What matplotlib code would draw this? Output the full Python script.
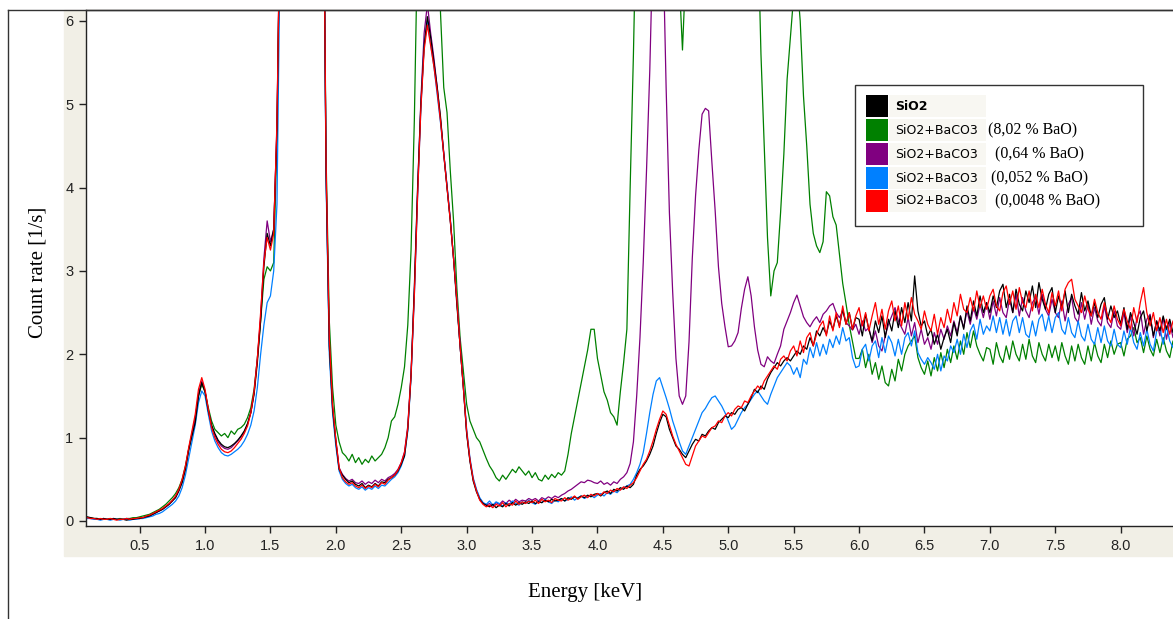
import numpy as np
import matplotlib
matplotlib.use('Agg')
from matplotlib import pyplot as plt
from matplotlib.patches import Rectangle
from matplotlib.lines import Line2D

# channel energies, 25 eV per channel
energy = np.arange(340) * 0.025

sio2 = [
    0.06, 0.06, 0.06, 0.06, 0.05, 0.04, 0.03, 0.03, 0.02, 0.03, 0.02, 0.02, 0.03, 0.02, 0.02, 0.02, 0.01, 0.02, 0.02, 0.03,
    0.03, 0.04, 0.05, 0.06, 0.08, 0.10, 0.12, 0.14, 0.17, 0.20, 0.24, 0.28, 0.36, 0.46, 0.62, 0.85, 1.02, 1.18, 1.50, 1.66,
    1.55, 1.32, 1.15, 1.05, 0.97, 0.92, 0.89, 0.88, 0.90, 0.93, 0.97, 1.02, 1.08, 1.17, 1.30, 1.52, 1.90, 2.40, 3.05, 3.45,
    3.30, 3.50, 4.70, 7.5, 9, 9, 9, 9, 9, 9, 9, 9, 9, 9, 9, 9, 9, 4.2, 2.1, 1.35,
    0.95, 0.62, 0.55, 0.50, 0.46, 0.48, 0.44, 0.42, 0.45, 0.40, 0.43, 0.41, 0.45, 0.42, 0.47, 0.46, 0.50, 0.52, 0.55, 0.60,
    0.68, 0.78, 1.10, 1.75, 2.80, 4.00, 5.00, 5.70, 6.05, 5.80, 5.50, 5.20, 4.85, 4.40, 4.00, 3.60, 3.15, 2.60, 2.10, 1.60,
    1.05, 0.72, 0.48, 0.35, 0.26, 0.21, 0.19, 0.17, 0.20, 0.16, 0.19, 0.17, 0.21, 0.18, 0.22, 0.19, 0.22, 0.20, 0.23, 0.21,
    0.24, 0.21, 0.23, 0.22, 0.25, 0.23, 0.26, 0.24, 0.25, 0.27, 0.24, 0.28, 0.26, 0.29, 0.27, 0.30, 0.28, 0.31, 0.29, 0.32,
    0.33, 0.30, 0.34, 0.36, 0.33, 0.38, 0.36, 0.40, 0.38, 0.42, 0.40, 0.44, 0.55, 0.62, 0.66, 0.72, 0.80, 0.90, 1.05, 1.18,
    1.28, 1.25, 1.10, 1.00, 0.90, 0.86, 0.80, 0.76, 0.84, 0.92, 0.98, 0.96, 1.04, 1.02, 1.08, 1.12, 1.10, 1.18, 1.22, 1.26,
    1.24, 1.30, 1.28, 1.34, 1.36, 1.32, 1.40, 1.48, 1.58, 1.54, 1.62, 1.58, 1.70, 1.78, 1.84, 1.90, 1.86, 1.92, 1.96, 1.92,
    1.98, 2.04, 2.00, 2.10, 2.06, 2.20, 2.10, 2.28, 2.22, 2.32, 2.24, 2.40, 2.30, 2.46, 2.34, 2.54, 2.36, 2.50, 2.30, 2.44,
    2.42, 2.22, 2.48, 2.30, 2.16, 2.40, 2.26, 2.46, 2.20, 2.42, 2.28, 2.52, 2.32, 2.56, 2.38, 2.62, 2.40, 2.94, 2.52, 2.34,
    2.40, 2.22, 2.30, 2.12, 2.24, 2.06, 2.20, 2.30, 2.14, 2.38, 2.22, 2.46, 2.30, 2.58, 2.40, 2.64, 2.46, 2.70, 2.50, 2.62,
    2.50, 2.70, 2.56, 2.76, 2.84, 2.56, 2.72, 2.50, 2.78, 2.60, 2.52, 2.76, 2.62, 2.82, 2.56, 2.86, 2.66, 2.54, 2.72, 2.80,
    2.50, 2.70, 2.56, 2.76, 2.50, 2.72, 2.58, 2.48, 2.74, 2.52, 2.64, 2.46, 2.62, 2.44, 2.60, 2.68, 2.42, 2.58, 2.44, 2.52,
    2.36, 2.56, 2.30, 2.50, 2.38, 2.24, 2.44, 2.52, 2.28, 2.46, 2.22, 2.40, 2.28, 2.46, 2.30, 2.42, 2.26, 2.40, 2.30, 2.38,
]

bao_802 = [
    0.06, 0.06, 0.05, 0.05, 0.04, 0.04, 0.03, 0.03, 0.02, 0.03, 0.02, 0.03, 0.02, 0.02, 0.03, 0.02, 0.03, 0.03, 0.04, 0.04,
    0.05, 0.06, 0.07, 0.08, 0.10, 0.12, 0.14, 0.17, 0.20, 0.24, 0.28, 0.33, 0.40, 0.50, 0.66, 0.86, 1.05, 1.24, 1.50, 1.64,
    1.55, 1.36, 1.20, 1.10, 1.06, 1.02, 1.05, 1.00, 1.08, 1.04, 1.10, 1.12, 1.16, 1.24, 1.36, 1.58, 1.95, 2.40, 2.90, 3.05,
    3.00, 3.10, 4.60, 7.5, 9, 9, 9, 9, 9, 9, 9, 9, 9, 9, 9, 9, 9, 4.4, 2.4, 1.60,
    1.15, 0.95, 0.82, 0.78, 0.72, 0.80, 0.70, 0.76, 0.68, 0.74, 0.70, 0.78, 0.72, 0.76, 0.80, 0.88, 1.00, 1.20, 1.25, 1.40,
    1.60, 1.85, 2.35, 3.25, 4.80, 7.0, 9, 9, 9, 9, 9, 9, 6.1, 5.2, 4.9, 4.2, 3.6, 2.8, 2.2, 1.8,
    1.40, 1.20, 1.10, 1.00, 0.95, 0.85, 0.75, 0.66, 0.60, 0.52, 0.48, 0.55, 0.50, 0.56, 0.62, 0.58, 0.65, 0.60, 0.55, 0.60,
    0.52, 0.58, 0.50, 0.48, 0.55, 0.50, 0.56, 0.52, 0.58, 0.55, 0.60, 0.80, 1.05, 1.25, 1.45, 1.65, 1.85, 2.05, 2.30, 2.30,
    1.95, 1.75, 1.55, 1.45, 1.30, 1.25, 1.15, 1.55, 1.90, 2.30, 4.00, 5.60, 7.5, 9, 9, 9, 9, 9, 9, 9,
    9, 9, 9, 9, 8.0, 6.5, 5.65, 6.6, 8.5, 9, 9, 9, 9, 9, 9, 9, 9, 9, 9, 9,
    9, 9, 9, 9, 9, 9, 9, 9, 9, 7.2, 5.6, 4.5, 3.40, 2.70, 3.00, 3.10, 3.70, 4.40, 5.30, 5.80,
    6.3, 6.5, 6.0, 5.1, 4.50, 3.80, 3.45, 3.30, 3.22, 3.35, 3.95, 3.90, 3.65, 3.55, 3.20, 2.85, 2.61, 2.35, 2.15, 1.95,
    1.95, 2.06, 1.84, 2.00, 1.76, 1.90, 1.70, 1.86, 1.66, 1.62, 1.82, 1.68, 1.94, 1.80, 2.00, 2.10, 2.16, 2.22, 1.96, 1.84,
    1.76, 1.92, 1.74, 1.96, 1.80, 2.02, 1.84, 2.06, 1.90, 2.10, 1.94, 2.16, 2.00, 2.26, 2.08, 2.28, 2.10, 2.00, 1.92, 2.08,
    2.06, 1.88, 2.14, 1.98, 1.90, 2.10, 1.94, 2.16, 2.00, 1.92, 2.12, 1.94, 2.18, 1.98, 1.90, 2.14, 2.00, 1.92, 2.12, 1.96,
    2.10, 1.92, 2.14, 1.98, 1.88, 2.10, 1.92, 2.12, 1.96, 1.88, 2.10, 1.92, 2.14, 1.98, 1.90, 2.12, 1.96, 2.16, 2.00, 2.12,
    2.14, 1.98, 2.18, 2.22, 2.32, 2.14, 2.20, 2.02, 2.22, 2.06, 1.98, 2.18, 2.02, 2.20, 2.04, 1.96, 2.16, 2.02, 2.18, 2.04,
]

bao_064 = [
    0.06, 0.05, 0.05, 0.04, 0.04, 0.03, 0.03, 0.02, 0.02, 0.03, 0.02, 0.02, 0.03, 0.02, 0.02, 0.02, 0.03, 0.02, 0.02, 0.03,
    0.03, 0.04, 0.05, 0.06, 0.08, 0.10, 0.12, 0.14, 0.17, 0.20, 0.24, 0.29, 0.37, 0.48, 0.64, 0.86, 1.04, 1.22, 1.52, 1.68,
    1.56, 1.33, 1.14, 1.03, 0.95, 0.90, 0.87, 0.86, 0.88, 0.92, 0.96, 1.01, 1.07, 1.16, 1.30, 1.54, 1.95, 2.45, 3.15, 3.60,
    3.35, 3.50, 4.75, 7.5, 9, 9, 9, 9, 9, 9, 9, 9, 9, 9, 9, 9, 9, 4.2, 2.1, 1.36,
    0.97, 0.64, 0.56, 0.51, 0.48, 0.50, 0.46, 0.45, 0.48, 0.44, 0.47, 0.45, 0.49, 0.46, 0.50, 0.48, 0.52, 0.54, 0.57, 0.62,
    0.70, 0.83, 1.14, 1.78, 2.75, 3.95, 5.05, 5.85, 6.20, 5.85, 5.55, 5.20, 4.82, 4.42, 4.02, 3.62, 3.15, 2.65, 2.10, 1.60,
    1.06, 0.73, 0.50, 0.37, 0.27, 0.22, 0.19, 0.21, 0.18, 0.22, 0.20, 0.24, 0.21, 0.25, 0.22, 0.26, 0.23, 0.25, 0.24, 0.27,
    0.25, 0.27, 0.24, 0.28, 0.26, 0.29, 0.27, 0.30, 0.28, 0.31, 0.33, 0.36, 0.38, 0.41, 0.44, 0.47, 0.46, 0.49, 0.48, 0.46,
    0.45, 0.48, 0.44, 0.46, 0.43, 0.47, 0.45, 0.50, 0.53, 0.58, 0.69, 0.95, 1.50, 2.20, 3.10, 4.20, 5.40, 7.0, 8.5, 8.5,
    7.0, 5.20, 3.70, 2.75, 1.95, 1.50, 1.40, 1.50, 2.15, 3.15, 3.90, 4.45, 4.88, 4.95, 4.92, 4.30, 3.72, 3.05, 2.61, 2.33,
    2.09, 2.10, 2.16, 2.26, 2.55, 2.78, 2.93, 2.70, 2.33, 2.05, 1.88, 1.85, 1.97, 1.92, 1.89, 2.00, 2.10, 2.30, 2.40, 2.50,
    2.62, 2.71, 2.58, 2.45, 2.38, 2.33, 2.40, 2.45, 2.38, 2.48, 2.52, 2.58, 2.61, 2.50, 2.44, 2.52, 2.38, 2.34, 2.29, 2.36,
    2.24, 2.40, 2.28, 2.32, 2.14, 2.28, 2.10, 2.04, 2.22, 2.36, 2.46, 2.56, 2.40, 2.32, 2.24, 2.44, 2.22, 2.38, 2.14, 2.30,
    2.12, 2.20, 2.06, 2.26, 2.12, 2.30, 2.18, 2.34, 2.22, 2.40, 2.26, 2.46, 2.32, 2.52, 2.36, 2.56, 2.42, 2.60, 2.44, 2.62,
    2.42, 2.64, 2.46, 2.68, 2.50, 2.44, 2.66, 2.50, 2.72, 2.46, 2.68, 2.52, 2.44, 2.62, 2.68, 2.48, 2.72, 2.54, 2.46, 2.66,
    2.50, 2.44, 2.64, 2.40, 2.60, 2.68, 2.44, 2.38, 2.62, 2.42, 2.60, 2.36, 2.56, 2.40, 2.34, 2.58, 2.38, 2.32, 2.52, 2.34,
    2.30, 2.50, 2.26, 2.46, 2.22, 2.44, 2.52, 2.24, 2.42, 2.48, 2.20, 2.40, 2.22, 2.44, 2.18, 2.38, 2.20, 2.36, 2.14, 2.34,
]

bao_0052 = [
    0.05, 0.05, 0.04, 0.04, 0.03, 0.03, 0.02, 0.02, 0.01, 0.02, 0.02, 0.01, 0.02, 0.02, 0.01, 0.02, 0.02, 0.01, 0.02, 0.02,
    0.03, 0.03, 0.04, 0.05, 0.06, 0.08, 0.09, 0.11, 0.14, 0.17, 0.20, 0.24, 0.30, 0.40, 0.55, 0.75, 0.95, 1.15, 1.42, 1.56,
    1.50, 1.28, 1.08, 0.96, 0.88, 0.82, 0.79, 0.78, 0.80, 0.83, 0.86, 0.90, 0.96, 1.04, 1.15, 1.32, 1.60, 2.00, 2.35, 2.62,
    2.70, 3.00, 3.80, 7.0, 9, 9, 9, 9, 9, 9, 9, 9, 9, 9, 9, 9, 9, 4.1, 2.0, 1.30,
    0.90, 0.60, 0.50, 0.45, 0.42, 0.44, 0.40, 0.38, 0.41, 0.37, 0.40, 0.38, 0.42, 0.39, 0.43, 0.42, 0.46, 0.50, 0.53, 0.58,
    0.66, 0.78, 1.08, 1.72, 2.70, 3.90, 4.95, 5.70, 6.00, 5.72, 5.45, 5.12, 4.78, 4.40, 4.02, 3.62, 3.15, 2.65, 2.10, 1.62,
    1.10, 0.76, 0.52, 0.38, 0.28, 0.22, 0.20, 0.24, 0.19, 0.23, 0.21, 0.18, 0.22, 0.20, 0.24, 0.21, 0.19, 0.23, 0.21, 0.25,
    0.22, 0.20, 0.24, 0.22, 0.26, 0.23, 0.21, 0.25, 0.23, 0.27, 0.24, 0.26, 0.29, 0.25, 0.28, 0.30, 0.27, 0.29, 0.31, 0.28,
    0.31, 0.33, 0.30, 0.34, 0.32, 0.36, 0.34, 0.38, 0.40, 0.42, 0.44, 0.50, 0.58, 0.68, 0.82, 1.05, 1.30, 1.52, 1.68, 1.72,
    1.60, 1.48, 1.35, 1.20, 1.08, 0.95, 0.84, 0.80, 0.90, 1.00, 1.10, 1.20, 1.30, 1.35, 1.42, 1.48, 1.50, 1.44, 1.38, 1.30,
    1.20, 1.10, 1.14, 1.22, 1.30, 1.36, 1.40, 1.46, 1.52, 1.56, 1.50, 1.44, 1.40, 1.52, 1.62, 1.72, 1.78, 1.84, 1.90, 1.86,
    1.76, 1.84, 1.72, 1.94, 1.88, 2.08, 1.96, 2.14, 1.98, 2.12, 2.00, 2.18, 2.08, 2.22, 2.12, 2.32, 2.16, 2.20, 1.96, 1.84,
    1.86, 2.06, 2.12, 1.92, 2.10, 2.16, 1.96, 2.20, 2.02, 2.22, 2.14, 1.98, 2.18, 2.00, 2.20, 2.26, 2.10, 2.28, 2.02, 1.94,
    1.88, 1.96, 1.90, 1.82, 2.00, 1.80, 1.98, 1.92, 2.10, 2.02, 2.18, 2.00, 2.24, 2.08, 2.28, 2.36, 2.18, 2.42, 2.24, 2.34,
    2.28, 2.46, 2.26, 2.44, 2.24, 2.42, 2.22, 2.40, 2.46, 2.26, 2.44, 2.24, 2.20, 2.40, 2.22, 2.42, 2.48, 2.28, 2.46, 2.26,
    2.44, 2.50, 2.30, 2.24, 2.44, 2.26, 2.20, 2.40, 2.22, 2.16, 2.36, 2.18, 2.12, 2.32, 2.14, 2.34, 2.16, 2.10, 2.30, 2.12,
    2.08, 2.28, 2.12, 2.32, 2.14, 2.06, 2.26, 2.10, 2.30, 2.12, 2.04, 2.28, 2.32, 2.12, 2.34, 2.16, 2.08, 2.26, 2.10, 2.28,
]

bao_00048 = [
    0.06, 0.05, 0.05, 0.04, 0.04, 0.03, 0.03, 0.02, 0.03, 0.02, 0.02, 0.03, 0.02, 0.01, 0.02, 0.02, 0.03, 0.02, 0.03, 0.03,
    0.04, 0.04, 0.06, 0.07, 0.09, 0.11, 0.13, 0.15, 0.18, 0.21, 0.25, 0.30, 0.38, 0.50, 0.66, 0.88, 1.08, 1.28, 1.58, 1.72,
    1.58, 1.34, 1.12, 1.00, 0.92, 0.86, 0.83, 0.82, 0.84, 0.88, 0.93, 0.98, 1.05, 1.14, 1.30, 1.55, 1.95, 2.50, 3.10, 3.40,
    3.25, 3.45, 4.80, 7.5, 9, 9, 9, 9, 9, 9, 9, 9, 9, 9, 9, 9, 9, 4.3, 2.2, 1.40,
    0.98, 0.64, 0.52, 0.47, 0.44, 0.46, 0.42, 0.40, 0.43, 0.39, 0.42, 0.40, 0.44, 0.41, 0.46, 0.44, 0.49, 0.52, 0.55, 0.61,
    0.70, 0.82, 1.12, 1.75, 2.70, 3.90, 4.95, 5.65, 5.95, 5.70, 5.45, 5.15, 4.80, 4.40, 4.00, 3.60, 3.15, 2.65, 2.10, 1.60,
    1.08, 0.74, 0.50, 0.36, 0.25, 0.20, 0.17, 0.19, 0.16, 0.20, 0.18, 0.22, 0.17, 0.21, 0.19, 0.24, 0.20, 0.23, 0.21, 0.24,
    0.22, 0.25, 0.21, 0.26, 0.23, 0.25, 0.22, 0.27, 0.25, 0.24, 0.28, 0.25, 0.27, 0.30, 0.26, 0.29, 0.31, 0.28, 0.32, 0.30,
    0.33, 0.31, 0.35, 0.33, 0.37, 0.35, 0.39, 0.37, 0.41, 0.39, 0.43, 0.46, 0.52, 0.60, 0.68, 0.74, 0.84, 0.96, 1.10, 1.22,
    1.32, 1.28, 1.15, 1.02, 0.92, 0.84, 0.76, 0.68, 0.66, 0.78, 0.90, 0.96, 1.02, 1.00, 1.06, 1.12, 1.14, 1.20, 1.18, 1.26,
    1.30, 1.26, 1.34, 1.38, 1.36, 1.44, 1.42, 1.50, 1.56, 1.62, 1.58, 1.68, 1.74, 1.80, 1.86, 1.82, 1.94, 1.98, 1.92, 2.04,
    2.10, 1.98, 2.16, 2.02, 2.20, 2.26, 2.10, 2.24, 2.34, 2.40, 2.22, 2.46, 2.28, 2.50, 2.32, 2.58, 2.36, 2.50, 2.30, 2.46,
    2.56, 2.34, 2.50, 2.28, 2.46, 2.62, 2.36, 2.54, 2.30, 2.52, 2.64, 2.40, 2.58, 2.34, 2.62, 2.42, 2.68, 2.48, 2.40, 2.30,
    2.52, 2.36, 2.28, 2.48, 2.24, 2.44, 2.32, 2.54, 2.38, 2.62, 2.46, 2.72, 2.54, 2.50, 2.68, 2.52, 2.76, 2.56, 2.70, 2.54,
    2.70, 2.78, 2.58, 2.52, 2.74, 2.82, 2.60, 2.76, 2.54, 2.80, 2.62, 2.56, 2.76, 2.52, 2.72, 2.56, 2.78, 2.60, 2.50, 2.74,
    2.58, 2.76, 2.52, 2.78, 2.86, 2.90, 2.66, 2.58, 2.50, 2.70, 2.54, 2.46, 2.66, 2.50, 2.42, 2.62, 2.46, 2.38, 2.58, 2.42,
    2.34, 2.54, 2.40, 2.30, 2.56, 2.38, 2.62, 2.80, 2.50, 2.34, 2.50, 2.28, 2.44, 2.26, 2.42, 2.24, 2.40, 2.22, 2.38, 2.28,
]

names = ['SiO2', 'SiO2+BaCO3', 'SiO2+BaCO3', 'SiO2+BaCO3', 'SiO2+BaCO3']
contents = ['', '(8,02 % BaO)', '(0,64 % BaO)', '(0,052 % BaO)', '(0,0048 % BaO)']
colors = ['#000000', '#008000', '#800080', '#0080FF', '#FF0000']
spectra = [sio2, bao_802, bao_064, bao_0052, bao_00048]
for s in spectra:
    assert len(s) == len(energy), len(s)

W, H = 1173, 619
fig = plt.figure(figsize=(W / 100, H / 100), dpi=100, facecolor='white')


def fx(px):
    return px / W


def fy(py):
    return 1 - py / H


# beige strip behind the tick labels
fig.patches.append(Rectangle((fx(64), fy(556)), fx(W) - fx(64), fy(10) - fy(556),
                             transform=fig.transFigure, color='#F1EFE6', zorder=-5))

ax = fig.add_axes([fx(86), fy(526), 1 - fx(86), fy(10) - fy(526)])
ax.set_facecolor('white')

# green first, red last, as in the spectrometer software
for i in [1, 2, 3, 0, 4]:
    ax.plot(energy, spectra[i], color=colors[i], lw=0.9)

ax.set_xlim(0.09, 8.40)
ax.set_ylim(-0.06, 6.13)
ax.set_xticks(np.arange(0.5, 8.01, 0.5))
ax.set_xticklabels(['%.1f' % t for t in np.arange(0.5, 8.01, 0.5)])
ax.set_yticks(range(7))
ax.tick_params(direction='out', length=5, width=1, color='#222222', labelsize=10.5, pad=4)
for lab in ax.get_xticklabels() + ax.get_yticklabels():
    lab.set_family('Liberation Sans')
    lab.set_color('#222222')
ax.spines['right'].set_visible(False)
for sp in ['left', 'bottom', 'top']:
    ax.spines[sp].set_linewidth(1)
    ax.spines[sp].set_color('#222222')

# outer frame of the window
fig.add_artist(Line2D([fx(8), fx(8)], [fy(10), 0], transform=fig.transFigure, color='#333333', lw=1))
fig.add_artist(Line2D([fx(8), 1], [fy(10), fy(10)], transform=fig.transFigure, color='#333333', lw=1))

fig.text(fx(585), fy(592), 'Energy [keV]', ha='center', va='center', family='Liberation Serif', size=15)
fig.text(fx(38), fy(272), 'Count rate [1/s]', ha='center', va='center', rotation=90,
         family='Liberation Serif', size=15)

# legend box
fig.patches.append(Rectangle((fx(855), fy(226)), fx(1143) - fx(855), fy(85) - fy(226),
                             transform=fig.transFigure, facecolor='white', edgecolor='#333333',
                             lw=1, zorder=5))
row_tops = [95, 119, 143, 167, 190]
serif_x = [None, 988, 995, 991, 995]
for i, top in enumerate(row_tops):
    fig.patches.append(Rectangle((fx(866), fy(top + 22)), fx(888) - fx(866), fy(top) - fy(top + 22),
                                 transform=fig.transFigure, facecolor=colors[i], edgecolor='none', zorder=6))
    fig.patches.append(Rectangle((fx(889), fy(top + 22)), fx(986) - fx(889), fy(top) - fy(top + 22),
                                 transform=fig.transFigure, facecolor='#F8F7F2', edgecolor='none', zorder=6))
    fig.text(fx(895), fy(top + 11), names[i], ha='left', va='center', family='DejaVu Sans', size=9,
             weight='bold' if i == 0 else 'normal', zorder=7)
    if contents[i]:
        fig.text(fx(serif_x[i]), fy(top + 11), contents[i], ha='left', va='center',
                 family='Liberation Serif', size=11.5, zorder=7)

fig.savefig('out.png', dpi=100, facecolor='white')
